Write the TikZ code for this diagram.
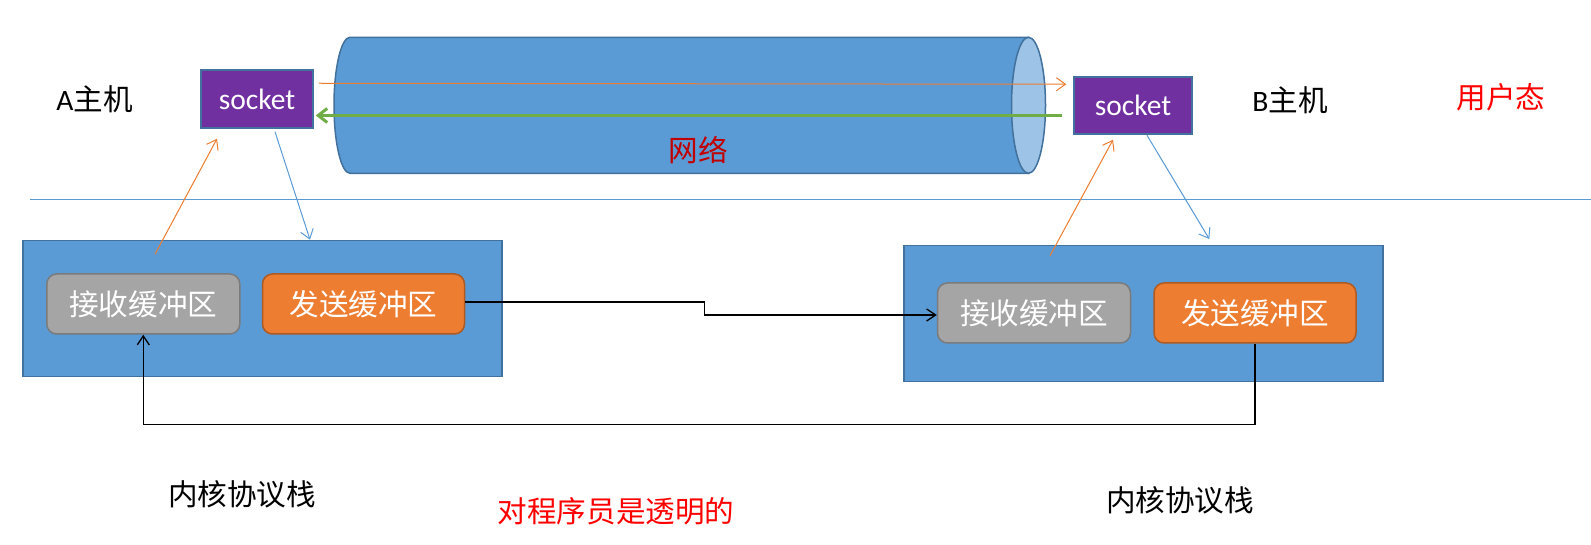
\documentclass[tikz,border=0pt]{standalone}
\usepackage{fontspec}
\setmainfont{Carlito}
\newfontfamily\cjkfont{Noto Sans CJK SC}
\usetikzlibrary{arrows.meta,calc}
\definecolor{kblue}{HTML}{5B9BD5}
\definecolor{kborder}{HTML}{41719C}
\definecolor{sockpurple}{HTML}{7030A0}
\definecolor{grayfill}{HTML}{A5A5A5}
\definecolor{grayborder}{HTML}{7B7B7B}
\definecolor{orangefill}{HTML}{ED7D31}
\definecolor{orangeborder}{HTML}{AE5A21}
\definecolor{endfill}{HTML}{9DC3E6}
\definecolor{greenline}{HTML}{70AD47}
\definecolor{netred}{HTML}{C00000}
\newcommand\bigtext{\fontsize{29.6}{34}\selectfont}
\tikzset{
  kbox/.style={draw=kborder, fill=kblue, line width=1.5pt, minimum width=479pt, minimum height=136pt, inner sep=0pt},
  bufbox/.style={rounded corners=10pt, line width=1.5pt, minimum height=60pt, inner sep=0pt, text=white, font=\bigtext\cjkfont},
  recvbox/.style={bufbox, draw=grayborder, fill=grayfill, minimum width=193pt},
  sendbox/.style={bufbox, draw=orangeborder, fill=orangefill, minimum width=202pt},
  sockbox/.style={draw=kborder, fill=sockpurple, line width=1.5pt, inner sep=0pt, text=white, font=\fontsize{29.5}{34}\selectfont},
  lbl/.style={inner sep=0pt, font=\bigtext},
  oline/.style={draw=orangefill, line width=1pt, -{Straight Barb[length=9pt,width=13pt]}},
  bline/.style={draw=kblue, line width=1pt, -{Straight Barb[length=9pt,width=13pt]}},
  gline/.style={draw=greenline, line width=3pt, -{Straight Barb[length=9pt,width=14pt]}},
  kline/.style={draw=black, line width=1.3pt, -{Straight Barb[length=9pt,width=12pt]}},
  divider/.style={draw=kblue, line width=1pt},
}
\begin{document}
\begin{tikzpicture}[x=1pt,y=-1pt]
\useasboundingbox (0,0) rectangle (1591,545);
\fill[white] (0,0) rectangle (1591,545);
% network cylinder
\draw[kborder, fill=kblue, line width=1.5pt]
  (350,37.3) -- (1028.5,37.3) -- (1028.5,173.3) -- (350,173.3)
  .. controls (341.2,173.3) and (334,142.9) .. (334,105.3)
  .. controls (334,67.7) and (341.2,37.3) .. (350,37.3) -- cycle;
\draw[kborder, fill=endfill, line width=1.5pt] (1028.5,105.3) ellipse [x radius=17, y radius=68];
\node[lbl, text=netred] (net) at (698,150) {\cjkfont 网络};
% divider
\coordinate (d1) at (30,199.3);
\coordinate (d2) at (1591,199.3);
\draw[divider] (d1) -- (d2);
% kernel boxes
\node[kbox] (kA) at (262.5,308.5) {};
\node[kbox] (kB) at (1143.7,313.3) {};
\node[recvbox] (rA) at (143.3,304) {接收缓冲区};
\node[sendbox] (dA) at (363.5,304) {发送缓冲区};
\node[recvbox] (rB) at (1034,313) {接收缓冲区};
\node[sendbox] (dB) at (1255,313) {发送缓冲区};
% sockets
\node[sockbox, minimum width=112pt, minimum height=58pt] (sA) at (257,99) {socket};
\node[sockbox, minimum width=118pt, minimum height=57pt] (sB) at (1133,105.5) {socket};
% connectors
\draw[oline] ($(sA.north east)+(5,14)$) -- ($(sB.north west)+(-7,8)$);
\coordinate (g1) at (1062,115.5);
\draw[gline, shorten >=2pt] (g1) -- (g1 -| sA.east);
\draw[bline] ($(sA.south)+(18,3)$) -- ($(kA.north)+(47.5,0)$);
\draw[oline] ($(kA.north)+(-107.5,14.5)$) -- ($(sA.south)+(-40,10)$);
\draw[bline] ($(sB.south)+(14,0.5)$) -- ($(kB.north)+(65.6,-5.5)$);
\draw[oline] ($(kB.north)+(-93.7,11.2)$) -- ($(sB.south)+(-20,5)$);
\draw[kline] ($(dA.east)+(0,-2)$) -- ++(239,0) |- ($(rB.west)+(0,2)$);
\draw[kline] (dB.south) -- ++(0,81) -| (rA.south);
% labels
\node[lbl] (hA) at (94.5,99) {A\cjkfont 主机};
\node[lbl] (hB) at (1290,100) {B\cjkfont 主机};
\node[lbl, text=red] (user) at (1501,97) {\cjkfont 用户态};
\node[lbl] (kernA) at (242,494) {\cjkfont 内核协议栈};
\node[lbl] (kernB) at (1180,500) {\cjkfont 内核协议栈};
\node[lbl, text=red] (transp) at (616,511) {\cjkfont 对程序员是透明的};
\end{tikzpicture}
\end{document}
